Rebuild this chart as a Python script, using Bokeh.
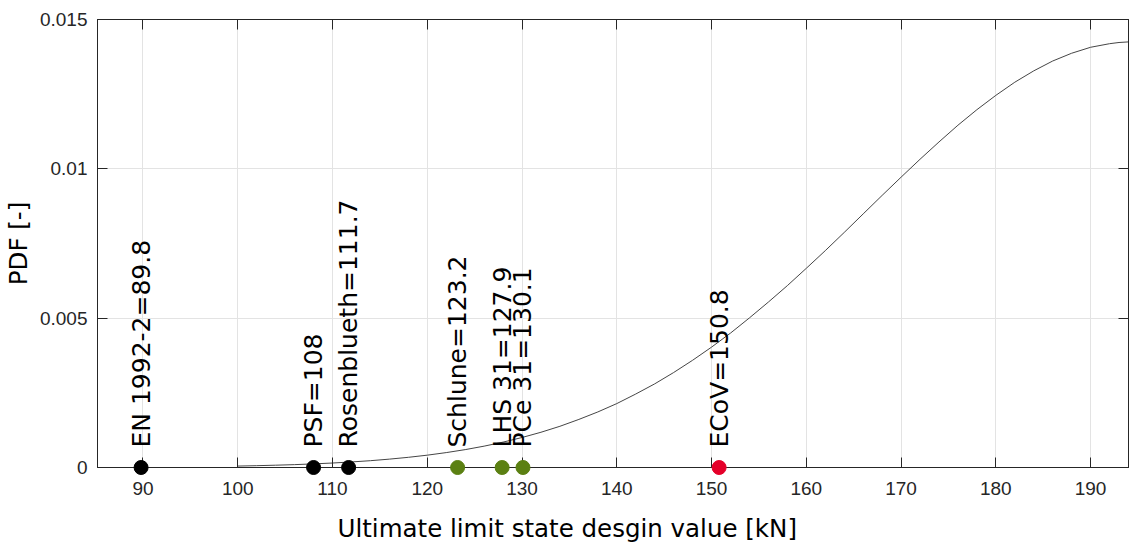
import math
from bokeh.plotting import figure
from bokeh.models import Range1d, FixedTicker, LinearAxis, CustomJSTickFormatter
from bokeh.core.properties import value
from bokeh.embed import file_html
from bokeh.resources import INLINE

# PDF curve
curve_x = [100, 102, 104, 106, 108, 110, 112, 114, 116, 118, 120, 122, 124, 126,
           128, 130, 132, 134, 136, 138, 140, 142, 144, 146, 148, 150, 152, 154,
           156, 158, 160, 162, 164, 166, 168, 170, 172, 174, 176, 178, 180, 182,
           184, 186, 188, 190, 192, 193, 194]
curve_y = [0.000048, 0.000061, 0.000077, 0.000096, 0.000121, 0.000150, 0.000186,
           0.000228, 0.000280, 0.000341, 0.000413, 0.000499, 0.000598, 0.000715,
           0.000850, 0.001004, 0.00118, 0.00138, 0.00161, 0.00186, 0.00214,
           0.00246, 0.00280, 0.00318, 0.00359, 0.00403, 0.00450, 0.00501,
           0.00554, 0.00609, 0.00667, 0.00726, 0.00787, 0.00849, 0.00911,
           0.00972, 0.01032, 0.01090, 0.01146, 0.01198, 0.01246, 0.01290,
           0.01328, 0.01361, 0.01387, 0.01407, 0.01419, 0.01423, 0.01425]

# design values
method_x = [89.8, 108.0, 111.7, 123.2, 127.9, 130.1, 150.8]
method_labels = ["EN 1992-2=89.8", "PSF=108", "Rosenblueth=111.7", "Schlune=123.2",
                 "LHS 31=127.9", "PCe 31=130.1", "ECoV=150.8"]
method_colors = ["#000000", "#000000", "#000000", "#5b8012", "#5b8012", "#5b8012", "#e5002a"]
method_y = [0.0] * len(method_x)

x_ticks = [90, 100, 110, 120, 130, 140, 150, 160, 170, 180, 190]
y_ticks = [0, 0.005, 0.01, 0.015]
y_tick_labels = ["0", "0.005", "0.01", "0.015"]
x_title = "Ultimate limit state desgin value [kN]"
y_title = "PDF [-]"

X_MIN, X_MAX = 85.2, 194.0
Y_MIN, Y_MAX = 0.0, 0.015

W, H = 1129, 543
B_LEFT, B_RIGHT, B_TOP, B_BOTTOM = 92, 1, 19, 76
FRAME_W = W - B_LEFT - B_RIGHT
TITLE_CENTER_PX = 472   # x title centre, measured from the frame's left edge

FONT = "DejaVu Sans"
TICK_FONT = "Liberation Sans"
AX = "#262626"

p = figure(width=W, height=H, output_backend="svg", toolbar_location=None,
           x_range=Range1d(X_MIN, X_MAX), y_range=Range1d(Y_MIN, Y_MAX),
           min_border_left=B_LEFT, min_border_right=B_RIGHT,
           min_border_top=B_TOP, min_border_bottom=B_BOTTOM)

p.outline_line_color = AX
p.outline_line_width = 1
p.background_fill_color = "white"
p.border_fill_color = "white"

p.xaxis.ticker = FixedTicker(ticks=x_ticks)
p.yaxis.ticker = FixedTicker(ticks=y_ticks)
p.yaxis.major_label_overrides = {t: l for t, l in zip(y_ticks, y_tick_labels)}

for ax in (p.xaxis[0], p.yaxis[0]):
    ax.axis_line_color = AX
    ax.major_tick_line_color = AX
    ax.major_tick_in = 10
    ax.major_tick_out = 0
    ax.minor_tick_line_color = None
    ax.major_label_text_font = TICK_FONT
    ax.major_label_text_font_size = "19px"
    ax.major_label_text_color = AX
    ax.axis_label_text_font = FONT
    ax.axis_label_text_font_size = "24.5px"
    ax.axis_label_text_font_style = "normal"
    ax.axis_label_text_color = "#000000"

p.yaxis.axis_label = y_title
p.xaxis.major_label_standoff = 14
p.yaxis.major_label_standoff = 10
p.yaxis.axis_label_standoff = 4

# mirrored inward ticks on top and right (box on)
blank = CustomJSTickFormatter(code="return ''")
for loc, ticks in (("above", x_ticks), ("right", y_ticks)):
    a = LinearAxis(ticker=FixedTicker(ticks=ticks), formatter=blank,
                   major_tick_in=10, major_tick_out=0, minor_tick_line_color=None,
                   axis_line_color=AX, major_tick_line_color=AX,
                   major_label_standoff=0)
    p.add_layout(a, loc)

p.xgrid.grid_line_color = "#e3e3e3"
p.ygrid.grid_line_color = "#e3e3e3"

p.line(curve_x, curve_y, line_color="#454545", line_width=1)

p.scatter(method_x, method_y, size=14, fill_color=method_colors,
          line_color=method_colors, line_width=1, level="overlay")

p.text(method_x, method_y, text=method_labels, angle=math.pi / 2,
       text_align="left", text_baseline="middle", y_offset=-20,
       text_font=value(FONT), text_font_size="25px", text_color="#000000",
       level="overlay")

# x title (sits left of the frame centre in the reference)
title_x = X_MIN + TITLE_CENTER_PX / FRAME_W * (X_MAX - X_MIN)
p.text([title_x], [Y_MIN], text=[x_title], text_align="center",
       text_baseline="alphabetic", y_offset=61,
       text_font=value(FONT), text_font_size="24.5px", text_color="#000000",
       level="overlay")

open("out.html", "w").write(file_html(p, INLINE))
